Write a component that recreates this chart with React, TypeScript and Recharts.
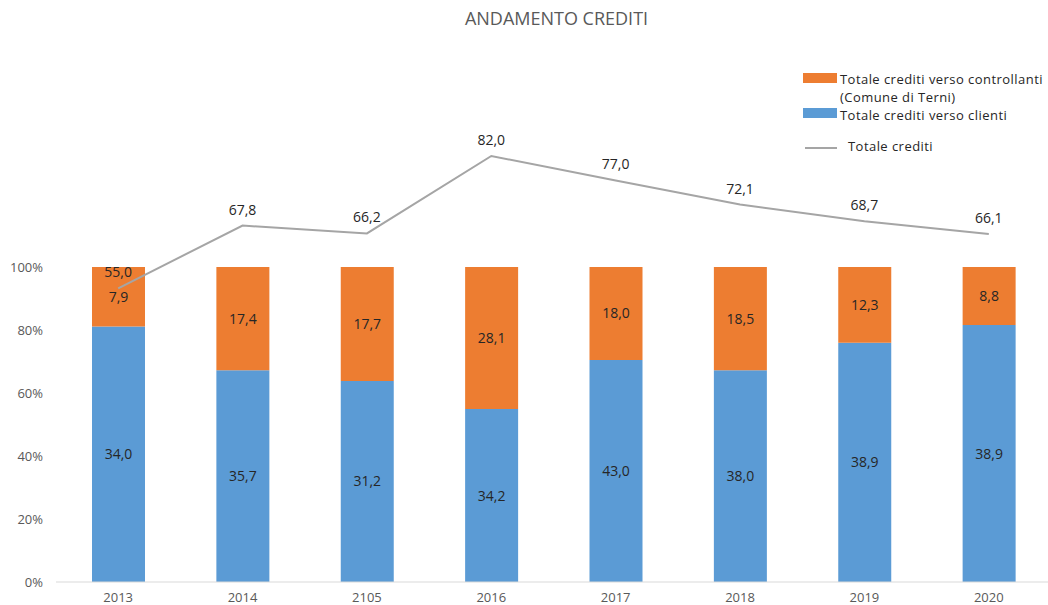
import React from "react";
import { ComposedChart, Bar, Line, XAxis, YAxis, LabelList } from "recharts";

const years = ["2013", "2014", "2105", "2016", "2017", "2018", "2019", "2020"];
const clienti = [34.0, 35.7, 31.2, 34.2, 43.0, 38.0, 38.9, 38.9];
const controllanti = [7.9, 17.4, 17.7, 28.1, 18.0, 18.5, 12.3, 8.8];
const totale = [55.0, 67.8, 66.2, 82.0, 77.0, 72.1, 68.7, 66.1];
const pctTicks = [0, 0.2, 0.4, 0.6, 0.8, 1];

// bars are drawn as share of the stack, labels show the raw values
const data = years.map((year, i) => {
  const sum = clienti[i] + controllanti[i];
  return {
    year,
    clientiPct: clienti[i] / sum,
    controllantiPct: controllanti[i] / sum,
    clienti: clienti[i],
    controllanti: controllanti[i],
    totale: totale[i],
  };
});

const FONT = "'Open Sans', 'Noto Sans', sans-serif";
const ORANGE = "#ED7D31";
const BLUE = "#5B9BD5";
const GREY_LINE = "#A5A5A5";
const TEXT = "#262626";

const fmt = (v: any) => Number(v).toFixed(1).replace(".", ",");

function LegendBox(): React.ReactElement {
  const row: React.CSSProperties = { display: "flex", alignItems: "flex-start" };
  const swatch = (c: string, top: number): React.CSSProperties => ({
    width: 34,
    height: 10,
    background: c,
    marginTop: top,
    marginRight: 3,
    flex: "none",
  });
  return (
    <div
      style={{
        position: "absolute",
        top: 70,
        left: 803,
        width: 250,
        fontFamily: FONT,
        fontSize: 13,
        letterSpacing: "0.45px",
        color: TEXT,
        lineHeight: "18px",
      }}
    >
      <div style={row}>
        <div style={swatch(ORANGE, 3)} />
        <div>
          <div>Totale crediti verso controllanti</div>
          <div>(Comune di Terni)</div>
        </div>
      </div>
      <div style={row}>
        <div style={swatch(BLUE, 2)} />
        <div>Totale crediti verso clienti</div>
      </div>
      <div style={{ ...row, marginTop: 13, alignItems: "center" }}>
        <div
          style={{
            width: 32,
            height: 2,
            background: GREY_LINE,
            marginLeft: 2,
            marginRight: 11,
            marginTop: 3,
          }}
        />
        <div>Totale crediti</div>
      </div>
    </div>
  );
}

export default function App(): React.ReactElement {
  return (
    <div
      style={{
        position: "absolute",
        left: 0,
        top: 0,
        width: 1048,
        height: 605,
        overflow: "hidden",
        background: "#fff",
      }}
    >
      <div
        style={{
          position: "absolute",
          top: 6,
          left: 0,
          width: 1113,
          textAlign: "center",
          fontFamily: FONT,
          fontSize: 18,
          color: "#595959",
        }}
      >
        ANDAMENTO CREDITI
      </div>
      <LegendBox />
      <ComposedChart
        width={1060}
        height={605}
        data={data}
        margin={{ top: 141, right: 9, bottom: 0, left: 0 }}
        style={{ position: "absolute", top: 0, left: 0 }}
      >
        <XAxis
          dataKey="year"
          axisLine={{ stroke: "#D9D9D9" }}
          tickLine={false}
          tickMargin={5}
          height={23}
          tick={{ fill: "#595959", fontSize: 13, fontFamily: FONT }}
        />
        <YAxis
          yAxisId="pct"
          domain={[0, 1.4]}
          ticks={pctTicks}
          tickFormatter={(v) => `${Math.round(v * 100)}%`}
          axisLine={false}
          tickLine={false}
          tickMargin={7}
          width={56}
          tick={{ fill: "#595959", fontSize: 13, fontFamily: FONT }}
        />
        <YAxis yAxisId="tot" orientation="right" domain={[-4.94, 85.06]} hide />
        <Bar
          yAxisId="pct"
          dataKey="clientiPct"
          stackId="s"
          fill={BLUE}
          barSize={53}
          isAnimationActive={false}
        >
          <LabelList
            dataKey="clienti"
            position="center"
            formatter={fmt}
            fill={TEXT}
            fontSize={14}
            fontFamily={FONT}
          />
        </Bar>
        <Bar
          yAxisId="pct"
          dataKey="controllantiPct"
          stackId="s"
          fill={ORANGE}
          barSize={53}
          isAnimationActive={false}
        >
          <LabelList
            dataKey="controllanti"
            position="center"
            formatter={fmt}
            fill={TEXT}
            fontSize={14}
            fontFamily={FONT}
          />
        </Bar>
        <Line
          yAxisId="tot"
          dataKey="totale"
          stroke={GREY_LINE}
          strokeWidth={2}
          dot={false}
          isAnimationActive={false}
        >
          <LabelList
            dataKey="totale"
            position="top"
            offset={11}
            formatter={fmt}
            fill={TEXT}
            fontSize={14}
            fontFamily={FONT}
          />
        </Line>
      </ComposedChart>
    </div>
  );
}
